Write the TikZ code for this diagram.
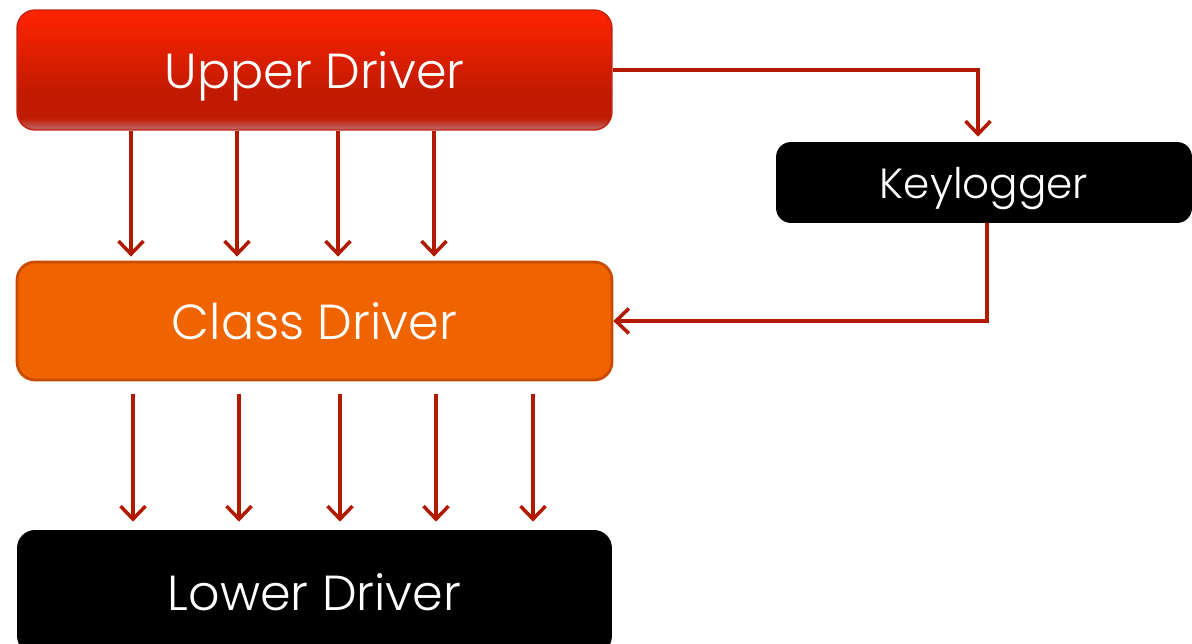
\documentclass[tikz,border=0pt]{standalone}
\usepackage{fontspec}
\setmainfont{Poppins Light}
\usetikzlibrary{arrows.meta}
\definecolor{uptop}{RGB}{255,36,0}
\definecolor{updark}{RGB}{192,26,0}
\definecolor{upband}{RGB}{190,92,88}
\definecolor{upline}{RGB}{196,34,16}
\definecolor{classfill}{RGB}{240,100,0}
\definecolor{classline}{RGB}{200,75,0}
\definecolor{arrowred}{RGB}{178,26,0}
\pgfdeclareverticalshading{uppershade}{100bp}{color(0bp)=(upband); color(26bp)=(upband); color(30bp)=(updark); color(40bp)=(updark); color(75bp)=(uptop); color(100bp)=(uptop)}
\tikzset{
  driver/.style={rectangle, rounded corners=0.36cm, minimum width=11.9cm,
    text=white, font=\fontsize{28}{34}\selectfont},
  link/.style={draw=arrowred, line width=2pt,
    -{Straight Barb[length=2.6mm,width=5mm]}},
}
\begin{document}
\begin{tikzpicture}[x=0.02cm,y=-0.02cm]
      \useasboundingbox (0,0) rectangle (1192,644);
      \node[driver, minimum height=2.4cm, text depth=0pt, shade, shading=uppershade, draw=upline, line width=0.8pt]
        (upper) at (314.5,70) {Upper Driver};
      \node[driver, minimum height=2.36cm, fill=classfill, draw=classline, line width=1.6pt]
        (class) at (314.5,321) {Class Driver};
      \node[driver, minimum height=2.48cm, fill=black] (lower) at (314.5,592) {Lower Driver};
      \node[rectangle, rounded corners=0.3cm, minimum width=8.32cm, minimum height=1.62cm,
        text depth=0pt, fill=black, text=white, font=\fontsize{24}{29}\selectfont]
        (kl) at (984,182.5) {Keylogger};
      % upper to class
      \foreach \x in {131,237,338,434}
        \draw[link, shorten >=0.08cm] (upper.south -| \x,0) -- (class.north -| \x,0);
      % class to lower
      \foreach \x in {133,239,340,436,533}
        \draw[link, shorten <=0.26cm, shorten >=0.16cm] (class.south -| \x,0) -- (lower.north -| \x,0);
      % through the keylogger
      \draw[link, shorten >=0.1cm] (upper.east) -| ([xshift=-0.12cm]kl.north);
      \draw[link] ([xshift=0.06cm]kl.south) |- (class.east);
    \end{tikzpicture}
\end{document}
